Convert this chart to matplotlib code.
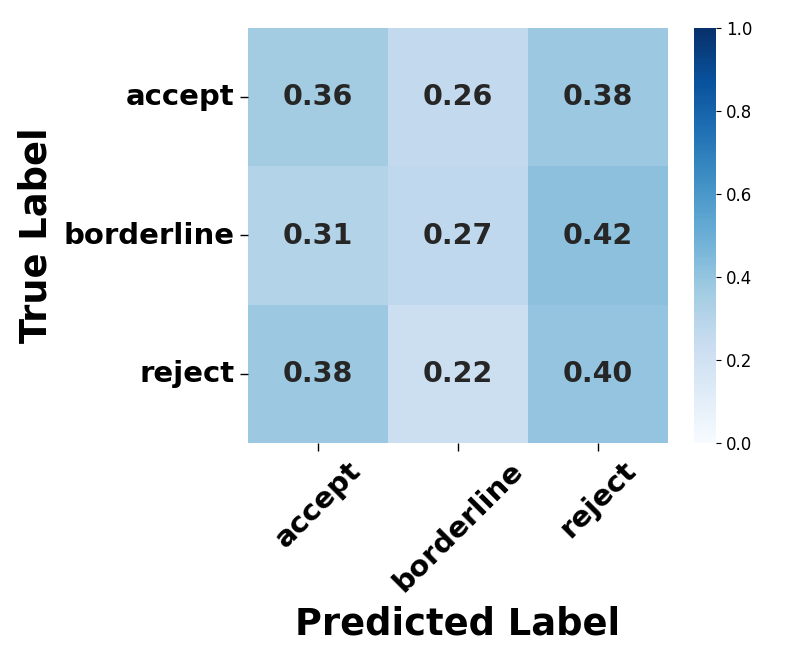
import matplotlib
matplotlib.use("Agg")
import matplotlib.pyplot as plt
import seaborn as sns
import numpy as np

labels = ["accept", "borderline", "reject"]
row_accept = [0.36, 0.26, 0.38]
row_borderline = [0.31, 0.27, 0.42]
row_reject = [0.38, 0.22, 0.40]
matrix = np.array([row_accept, row_borderline, row_reject])

fig = plt.figure(figsize=(7.93, 6.61), dpi=100)
ax = fig.add_axes([248/793, 1-443/661, 420/793, 415/661])
cax = fig.add_axes([694/793, 1-443/661, 22/793, 415/661])

sns.heatmap(matrix, annot=True, fmt=".2f", cmap="Blues", vmin=0, vmax=1,
            xticklabels=labels, yticklabels=labels, ax=ax, cbar_ax=cax,
            annot_kws={"fontsize": 20.5, "fontweight": "bold"})

ax.set_xticklabels(labels, rotation=45, fontsize=21, fontweight="bold")
ax.set_yticklabels(labels, rotation=0, fontsize=21, fontweight="bold")
ax.tick_params(axis="both", length=6, width=1)
ax.set_xlabel("Predicted Label", fontsize=26.5, fontweight="bold", labelpad=6)
ax.set_ylabel("True Label", fontsize=26.5, fontweight="bold", labelpad=7)
cax.tick_params(labelsize=12)

fig.savefig("out.png", dpi=100)
